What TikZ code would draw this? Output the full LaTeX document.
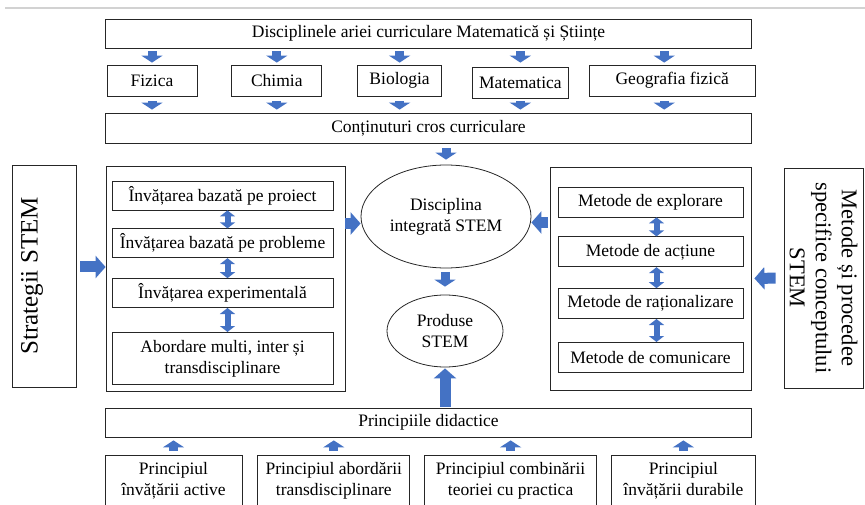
\documentclass[tikz,border=0pt]{standalone}
\usepackage{fontspec}
\setmainfont{Liberation Serif}
\usetikzlibrary{positioning,arrows.meta,shapes}
\definecolor{stemblue}{RGB}{68,114,196}
\tikzstyle{bbox}=[rectangle, draw=black!85, line width=0.8pt, inner sep=2pt, text centered, minimum height=29pt, font=\fontsize{17.5}{21}\selectfont]
\tikzstyle{cbox}=[rectangle, draw=black!85, line width=0.8pt, inner sep=0pt]
\tikzstyle{ebox}=[ellipse, draw=black!85, line width=0.8pt, inner sep=0pt, align=center, font=\fontsize{17.5}{21}\selectfont]
\tikzstyle{barrow}=[stemblue, line width=9pt, -{Triangle[width=21pt,length=7pt]}]
\tikzstyle{warrow}=[stemblue, line width=11pt, -{Triangle[width=22pt,length=10pt]}]
\tikzstyle{darrow}=[stemblue, line width=6pt, {Triangle[width=15pt,length=6pt]}-{Triangle[width=15pt,length=6pt]}]

\begin{document}
\begin{tikzpicture}[x=1pt,y=-1pt,node distance=0pt]
\useasboundingbox (0,0) rectangle (865,505);
\draw[gray!35, line width=2pt] (5,8) -- (865,8);
\node (ARIA) [bbox, minimum width=646pt, 
] at (428.5,33.5) {Disciplinele ariei curriculare Matematică și Științe};
\node (FIZ) [bbox, minimum width=90pt, minimum height=31pt, 
] at (152,80.5) {Fizica};
\node (CHIM) [bbox, minimum width=90pt, minimum height=31pt, 
right=34pt of FIZ] {Chimia};
\node (BIO) [bbox, minimum width=84pt, minimum height=31pt, 
right=35pt of CHIM] {Biologia};
\node (MATE) [bbox, minimum width=96pt, minimum height=31pt, 
right=30pt of BIO, yshift=-2pt] {Matematica};
\node (GEO) [bbox, minimum width=166pt, minimum height=31pt, 
right=20pt of MATE, yshift=2pt] {Geografia fizică};
\node (CONT) [bbox, minimum width=646pt, minimum height=30pt, 
] at (428.5,128) {Conținuturi cros curriculare};
\node (STRAT) [cbox, minimum width=64pt, minimum height=222pt, 
] at (44,276) {};
\node [rotate=90, font=\fontsize{25}{30}\selectfont] at ([xshift=-12pt]STRAT.center) {Strategii STEM};
\node (LSTRAT) [cbox, minimum width=239pt, minimum height=225pt, 
] at (225.5,278.5) {};
\node (PROIECT) [bbox, minimum width=221pt, 
] at (222.5,195.5) {Învățarea bazată pe proiect};
\node (PROBLEME) [bbox, minimum width=221pt, 
below=18pt of PROIECT] {Învățarea bazată pe probleme};
\node (EXPER) [bbox, minimum width=221pt, 
below=20pt of PROBLEME] {Învățarea experimentală};
\node (ABORD) [bbox, minimum width=221pt, minimum height=52pt, align=center, 
below=24pt of EXPER] {Abordare multi, inter și\\transdisciplinare};
\node (DISC) [ebox, minimum width=170pt, minimum height=103pt, 
] at (446,216.5) {Disciplina\\integrată STEM};
\node (PROD) [ebox, minimum width=116pt, minimum height=72pt, 
] at (445,331) {Produse\\STEM};
\node (METC) [cbox, minimum width=201pt, minimum height=223pt, 
] at (650.5,278.5) {};
\node (EXPL) [bbox, minimum width=185pt, minimum height=30pt, 
] at (650.5,202) {Metode de explorare};
\node (ACT) [bbox, minimum width=185pt, minimum height=30pt, 
below=19pt of EXPL] {Metode de acțiune};
\node (RAT) [bbox, minimum width=185pt, minimum height=30pt, 
below=21pt of ACT] {Metode de raționalizare};
\node (COM) [bbox, minimum width=185pt, minimum height=30pt, 
below=23pt of RAT] {Metode de comunicare};
\node (METSTEM) [cbox, minimum width=79pt, minimum height=220pt, 
] at (823.5,278) {};
\node [rotate=-90, align=center, font=\fontsize{22.5}{26}\selectfont] at (METSTEM.center) {Metode și procedee\\specifice conceptului\\STEM};
\node (PRINC) [bbox, minimum width=646pt, 
] at (428.5,422.5) {Principiile didactice};
\node (PACT) [bbox, minimum width=137pt, minimum height=52pt, align=center, 
] at (173.5,481) {Principiul\\învățării active};
\node (PTRANS) [bbox, minimum width=152pt, minimum height=52pt, align=center, 
right=15pt of PACT] {Principiul abordării\\transdisciplinare};
\node (PTEOR) [bbox, minimum width=172pt, minimum height=52pt, align=center, 
right=14pt of PTRANS] {Principiul combinării\\teoriei cu practica};
\node (PDUR) [bbox, minimum width=144pt, minimum height=52pt, align=center, 
right=14pt of PTEOR] {Principiul\\învățării durabile};
 \draw[barrow, shorten <=3pt, shorten >=2pt]   (ARIA.south -| FIZ) -- (FIZ.north) ; 
 \draw[barrow, shorten <=3pt, shorten >=2pt]   (ARIA.south -| CHIM) -- (CHIM.north) ; 
 \draw[barrow, shorten <=3pt, shorten >=2pt]   (ARIA.south -| BIO) -- (BIO.north) ; 
 \draw[barrow, shorten <=3pt, shorten >=4pt]   (ARIA.south -| MATE) -- (MATE.north) ; 
 \draw[barrow, shorten <=3pt, shorten >=2pt]   ([xshift=-8pt]ARIA.south -| GEO) -- ([xshift=-8pt]GEO.north) ; 
 \draw[barrow, shorten <=5pt, shorten >=3pt]   (FIZ.south) -- (CONT.north -| FIZ) ; 
 \draw[barrow, shorten <=5pt, shorten >=3pt]   (CHIM.south) -- (CONT.north -| CHIM) ; 
 \draw[barrow, shorten <=5pt, shorten >=3pt]   (BIO.south) -- (CONT.north -| BIO) ; 
 \draw[barrow, shorten <=3pt, shorten >=3pt]   (MATE.south) -- (CONT.north -| MATE) ; 
 \draw[barrow, shorten <=5pt, shorten >=3pt]   ([xshift=-8pt]GEO.south) -- ([xshift=-8pt]CONT.north -| GEO) ; 
 \draw[barrow, shorten <=5pt, shorten >=5pt]   (CONT.south -| DISC) -- (DISC.north) ; 
 \draw[barrow, shorten <=4pt, shorten >=8pt]   (DISC.south -| PROD) -- (PROD.north) ; 
 \draw[warrow, shorten <=1pt, shorten >=1pt]   (PRINC.north -| PROD) -- (PROD.south) ; 
 \draw[warrow, shorten <=4pt]   ([yshift=9pt]STRAT.east) -- ([yshift=9pt]STRAT.east -| LSTRAT.west) ; 
 \draw[warrow]   ([yshift=-7pt]DISC.west -| LSTRAT.east) -- ([yshift=-7pt]DISC.west) ; 
 \draw[warrow, shorten <=2pt]   ([yshift=-6pt]DISC.east -| METC.west) -- ([yshift=-6pt]DISC.east) ; 
 \draw[warrow, shorten <=8pt, shorten >=3pt]   (METSTEM.west) -- (METC.east) ; 
 \draw[darrow]   ([xshift=5pt]PROIECT.south) -- ([xshift=5pt]PROBLEME.north) ; 
 \draw[darrow]   ([xshift=5pt]PROBLEME.south) -- ([xshift=5pt]EXPER.north) ; 
 \draw[darrow]   ([xshift=5pt]EXPER.south) -- ([xshift=5pt]ABORD.north) ; 
 \draw[darrow]   ([xshift=6pt]EXPL.south) -- ([xshift=6pt]ACT.north) ; 
 \draw[darrow]   ([xshift=6pt]ACT.south) -- ([xshift=6pt]RAT.north) ; 
 \draw[darrow]   ([xshift=6pt]RAT.south) -- ([xshift=6pt]COM.north) ; 
 \draw[barrow, shorten <=4pt, shorten >=3pt]   (PACT.north) -- (PRINC.south -| PACT) ; 
 \draw[barrow, shorten <=4pt, shorten >=3pt]   (PTRANS.north) -- (PRINC.south -| PTRANS) ; 
 \draw[barrow, shorten <=4pt, shorten >=3pt]   (PTEOR.north) -- (PRINC.south -| PTEOR) ; 
 \draw[barrow, shorten <=4pt, shorten >=3pt]   (PDUR.north) -- (PRINC.south -| PDUR) ; 
\end{tikzpicture}
\end{document}
